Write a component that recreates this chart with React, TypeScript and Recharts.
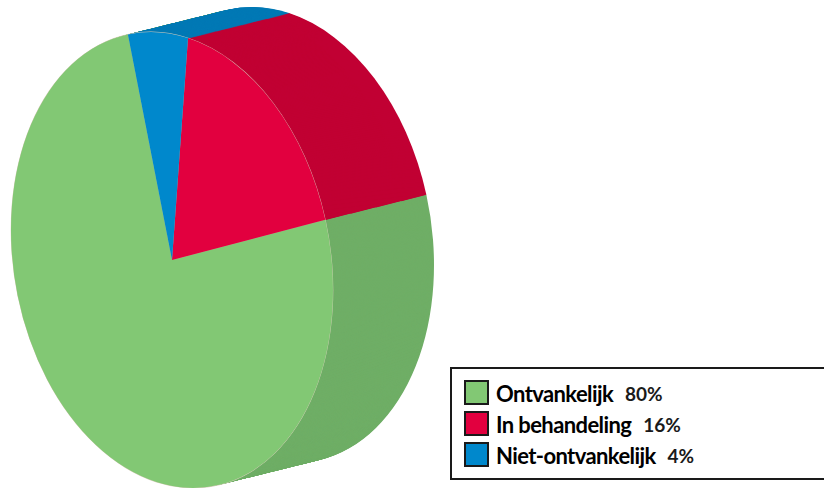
import { PieChart, Pie, Cell } from "recharts"

const labels = ["Ontvankelijk", "In behandeling", "Niet-ontvankelijk"]
// percentages as printed in the legend
const printedShares = ["80%", "16%", "4%"]
// slice sizes as they are actually drawn in the picture (measured, they differ a bit from the legend)
const drawnShares = [75.5, 18.5, 6]
const faceColors = ["#82c874", "#e2003f", "#0088cc"]
const sideColors = ["#6fae66", "#c10033", "#0079b5"]
const RIM_COLOR = "#d8cdbb"

const data = labels.map((name, i) => ({ name, value: drawnShares[i] }))

const RADIUS = 200
const SIZE = 760
// the round pie is sheared into the slanted ellipse of the picture
const A = 161 / RADIUS
const C = 30 / RADIUS
const D = 226 / RADIUS
const CX = 220
const CY = 340
const TX = 172 - A * CX
const TY = 260 - C * CX - D * CY
// depth of the disc, on the page
const DEPTH_X = 101
const DEPTH_Y = -25
const LAYERS = 104

const START_ANGLE = 105.9
const END_ANGLE = START_ANGLE + 360

const layers = Array.from({ length: LAYERS }, (_, i) => LAYERS - i)

function PieDisc() {
  return (
    <div
      style={{
        position: "absolute",
        left: 0,
        top: 0,
        transformOrigin: "0 0",
        transform: `matrix(${A},${C},0,${D},${TX},${TY})`,
      }}
    >
      <PieChart width={SIZE} height={SIZE} margin={{ top: 0, right: 0, bottom: 0, left: 0 }}>
        {layers.map((k) => {
          const px = (DEPTH_X * k) / LAYERS
          const py = (DEPTH_Y * k) / LAYERS
          const ox = px / A
          const oy = (py - C * ox) / D
          return (
            <Pie
              key={k}
              data={data}
              dataKey="value"
              cx={CX + ox}
              cy={CY + oy}
              outerRadius={RADIUS}
              startAngle={START_ANGLE}
              endAngle={END_ANGLE}
              stroke="none"
              isAnimationActive={false}
            >
              {data.map((d, i) => (
                <Cell key={d.name} fill={sideColors[i]} />
              ))}
            </Pie>
          )
        })}
        {/* thin light rim round the front face */}
        <Pie
          data={data}
          dataKey="value"
          cx={CX}
          cy={CY}
          outerRadius={RADIUS + 0.35}
          startAngle={START_ANGLE}
          endAngle={END_ANGLE}
          stroke="none"
          isAnimationActive={false}
        >
          {data.map((d) => (
            <Cell key={d.name} fill={RIM_COLOR} />
          ))}
        </Pie>
        <Pie
          data={data}
          dataKey="value"
          cx={CX}
          cy={CY}
          outerRadius={RADIUS}
          startAngle={START_ANGLE}
          endAngle={END_ANGLE}
          stroke="none"
          isAnimationActive={false}
        >
          {data.map((d, i) => (
            <Cell key={d.name} fill={faceColors[i]} />
          ))}
        </Pie>
      </PieChart>
    </div>
  )
}

function LegendBox() {
  return (
    <div
      style={{
        position: "absolute",
        left: 450,
        top: 367,
        width: 400,
        height: 109,
        border: "2px solid #1a1a1a",
        background: "#fff",
      }}
    >
      {labels.map((name, i) => (
        <div
          key={name}
          style={{
            position: "absolute",
            left: 12,
            top: 10 + i * 31,
            height: 27,
            display: "flex",
            alignItems: "center",
            fontFamily: "Lato, sans-serif",
            color: "#000",
            whiteSpace: "nowrap",
          }}
        >
          <span
            style={{
              width: 21,
              height: 21,
              border: "2px solid #1a1a1a",
              background: faceColors[i],
              marginRight: 7,
            }}
          />
          <span style={{ fontSize: 22, fontWeight: 700, letterSpacing: -0.6, position: "relative", top: 1 }}>
            {name}
          </span>
          <span style={{ fontSize: 19, fontWeight: 700, marginLeft: 12, color: "#1a1a1a", position: "relative", top: 1 }}>
            {printedShares[i]}
          </span>
        </div>
      ))}
    </div>
  )
}

export default function App() {
  return (
    <div
      style={{
        position: "absolute",
        left: 0,
        top: 0,
        width: 824,
        height: 488,
        overflow: "hidden",
        background: "#fff",
      }}
    >
      <PieDisc />
      <LegendBox />
    </div>
  )
}
